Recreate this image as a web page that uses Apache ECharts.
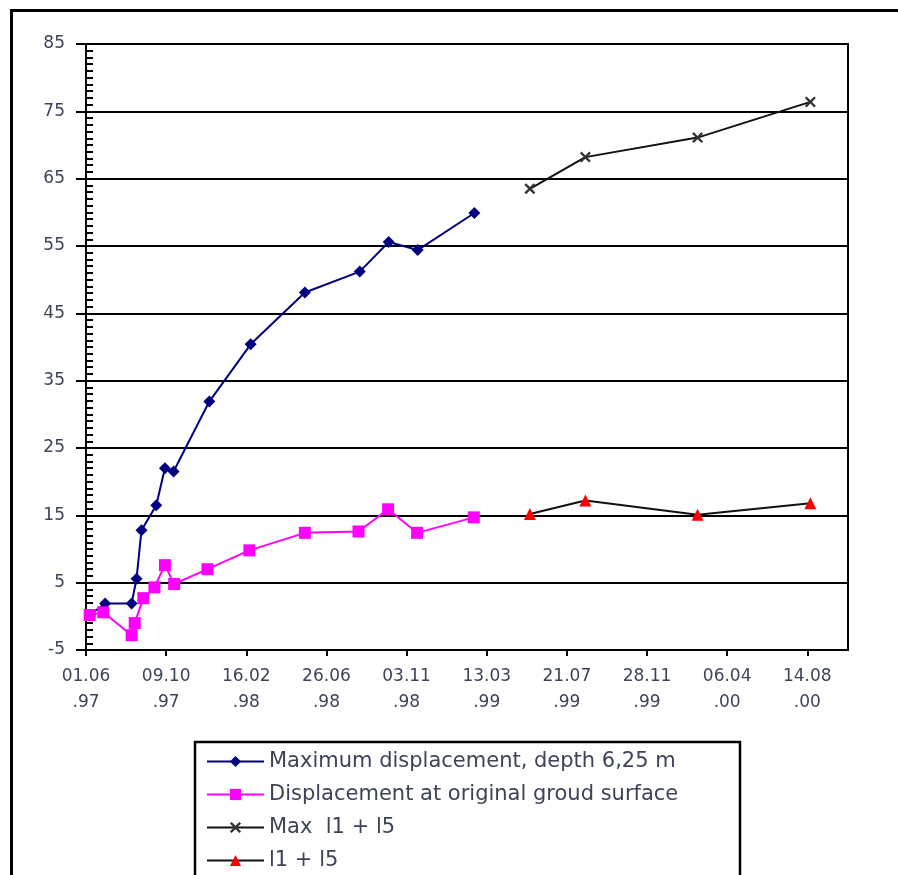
<!DOCTYPE html>
<html>
<head>
<meta charset="utf-8">
<script src="https://cdn.jsdelivr.net/npm/echarts@6/dist/echarts.min.js"></script>
<style>
html,body{margin:0;padding:0;background:#fff;}
#chart{width:898px;height:875px;}
</style>
</head>
<body>
<div id="chart"></div>
<script>
// x values are days counted from 01.06.97
var tickLabels = ['01.06\n.97','09.10\n.97','16.02\n.98','26.06\n.98','03.11\n.98','13.03\n.99','21.07\n.99','28.11\n.99','06.04\n.00','14.08\n.00'];
var tickStepDays = 130;

var maxDispDays = [6, 31, 74, 82, 90, 114, 128, 142, 200, 267, 355, 444, 491, 538, 630];
var maxDispVals = [0.2, 1.9, 1.9, 5.6, 12.8, 16.5, 22.0, 21.5, 31.9, 40.4, 48.1, 51.2, 55.6, 54.4, 59.9];

var groundDays = [6, 28, 74, 79, 93, 111, 128, 143, 197, 265, 355, 442, 490, 537, 629];
var groundVals = [0.2, 0.6, -2.8, -1.0, 2.7, 4.3, 7.6, 4.8, 7.0, 9.8, 12.4, 12.6, 15.9, 12.4, 14.7];

var l15Days = [720, 810, 992, 1175];
var maxL15Vals = [63.5, 68.2, 71.1, 76.4];
var l15Vals = [15.2, 17.2, 15.1, 16.8];

var seriesNames = ['Maximum displacement, depth 6,25 m', 'Displacement at original groud surface', 'Max  l1 + l5', 'l1 + l5'];

function pairs(xs, ys){ return xs.map(function(x,i){ return [x, ys[i]]; }); }

var xSymbol = 'path://M0,1.5 L1.5,0 L5,3.5 L8.5,0 L10,1.5 L6.5,5 L10,8.5 L8.5,10 L5,6.5 L1.5,10 L0,8.5 L3.5,5 Z';
var labelColor = '#3c4458';

var chart = echarts.init(document.getElementById('chart'), null, {renderer:'canvas'});
chart.setOption({
  backgroundColor: '#ffffff',
  animation: false,
  grid: {left: 86, top: 44, right: 50, bottom: 225, show: true, borderColor: '#000', borderWidth: 2, backgroundColor: 'transparent'},
  xAxis: {
    type: 'value', min: 0, max: 1236, interval: tickStepDays,
    axisLine: {onZero: false, lineStyle: {color: '#000', width: 2}},
    axisTick: {show: true, length: 6, lineStyle: {color: '#000', width: 2}},
    splitLine: {show: false},
    axisLabel: {
      margin: 14, fontSize: 17, lineHeight: 26, color: labelColor, fontFamily: 'DejaVu Sans',
      showMaxLabel: false,
      formatter: function(v){
        if (v % tickStepDays !== 0) return '';
        var i = Math.round(v / tickStepDays);
        return tickLabels[i] || '';
      }
    }
  },
  yAxis: [{
    type: 'value', min: -5, max: 85, interval: 10, position: 'left',
    axisLine: {show: true, onZero: false, lineStyle: {color: '#000', width: 2}},
    axisTick: {show: true, length: 10, lineStyle: {color: '#000', width: 2}},
    splitLine: {show: true, lineStyle: {color: '#000', width: 2}},
    axisLabel: {margin: 21, fontSize: 17, color: labelColor, fontFamily: 'DejaVu Sans'}
  }, {
    type: 'value', min: -5, max: 85, interval: 10, position: 'left', offset: 0,
    axisLine: {show: false, onZero: false},
    axisTick: {show: false, inside: true},
    minorTick: {show: true, splitNumber: 10, length: 7, lineStyle: {color: '#000', width: 2}},
    splitLine: {show: false},
    axisLabel: {show: false}
  }],
  legend: {
    orient: 'vertical', left: 201, top: 746, height: 300,
    itemWidth: 57, itemHeight: 14, itemGap: 12,
    textStyle: {fontSize: 21, lineHeight: 21, color: labelColor, fontFamily: 'DejaVu Sans'},
    data: seriesNames
  },
  graphic: [
    {type: 'rect', shape: {x: 11.5, y: 10.5, width: 1000, height: 1000}, style: {fill: 'none', stroke: '#000', lineWidth: 3}, silent: true, z: 100},
    {type: 'rect', shape: {x: 195, y: 742, width: 545, height: 200}, style: {fill: 'none', stroke: '#000', lineWidth: 2.5}, silent: true, z: 100}
  ],
  series: [{
    name: seriesNames[0], type: 'line', yAxisIndex: 0,
    data: pairs(maxDispDays, maxDispVals),
    symbol: 'diamond', symbolSize: 12,
    lineStyle: {color: '#000080', width: 2},
    itemStyle: {color: '#000080'}
  }, {
    name: seriesNames[1], type: 'line', yAxisIndex: 0,
    data: pairs(groundDays, groundVals),
    symbol: 'rect', symbolSize: 12,
    lineStyle: {color: '#ff00ff', width: 2},
    itemStyle: {color: '#ff00ff'}
  }, {
    name: seriesNames[2], type: 'line', yAxisIndex: 0,
    data: pairs(l15Days, maxL15Vals),
    symbol: xSymbol, symbolSize: 11,
    lineStyle: {color: '#111', width: 2},
    itemStyle: {color: '#333'}
  }, {
    name: seriesNames[3], type: 'line', yAxisIndex: 0,
    data: pairs(l15Days, l15Vals),
    symbol: 'triangle', symbolSize: 12,
    lineStyle: {color: '#111', width: 2},
    itemStyle: {color: '#ff0000'}
  }]
});
</script>
</body>
</html>
